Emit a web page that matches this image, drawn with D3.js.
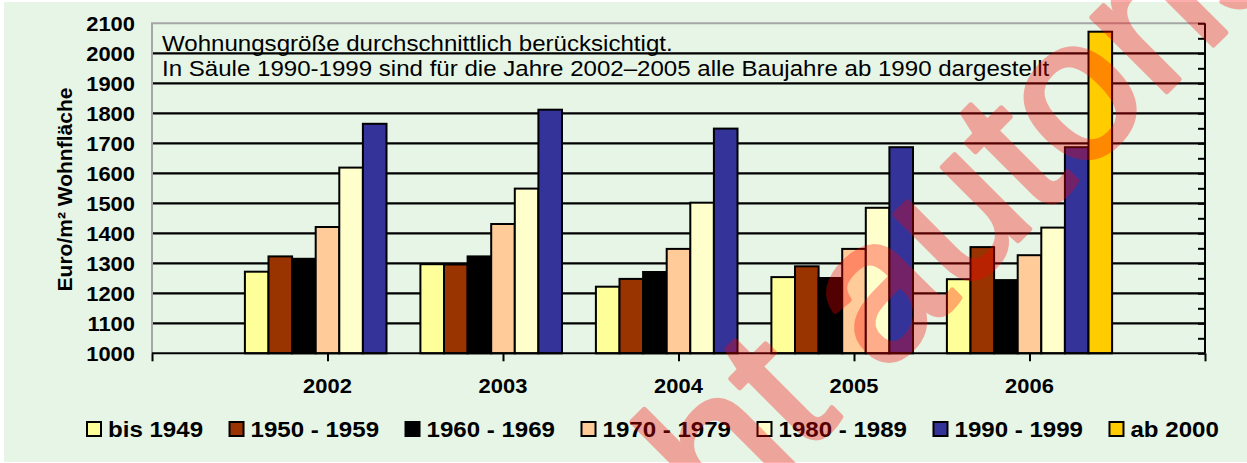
<!DOCTYPE html>
<html>
<head>
<meta charset="utf-8">
<script src="https://cdn.jsdelivr.net/npm/d3@7"></script>
<style>
  html, body { margin: 0; padding: 0; background: #ffffff; }
  svg { display: block; }
  text { font-family: "Liberation Sans", Arial, sans-serif; }
</style>
</head>
<body>
<svg id="chart" width="1247" height="463"></svg>
<script>
// Years on the category axis (the axis runs one step beyond each end)
const years = [2002, 2003, 2004, 2005, 2006];
const axisYears = [2001, 2002, 2003, 2004, 2005, 2006, 2007];

// Construction-period series
const series = ["bis 1949", "1950 - 1959", "1960 - 1969", "1970 - 1979", "1980 - 1989", "1990 - 1999", "ab 2000"];
const seriesColors = ["#FFFF99", "#993300", "#000000", "#FFCC99", "#FFFFCC", "#333399", "#FFCC00"];

// Euro per m² living area, one value per year (null = no value)
const bis1949   = [1272, 1297, 1222, 1254, 1247];
const v1950s    = [1323, 1296, 1248, 1290, 1354];
const v1960s    = [1315, 1323, 1271, 1251, 1244];
const v1970s    = [1421, 1431, 1348, 1348, 1327];
const v1980s    = [1619, 1549, 1502, 1485, 1419];
const v1990s    = [1765, 1812, 1749, 1687, 1687];
const ab2000    = [null, null, null, null, 2072];
const seriesValues = [bis1949, v1950s, v1960s, v1970s, v1980s, v1990s, ab2000];

const yTicks = d3.range(1000, 2101, 100);
const yMinorTicks = d3.range(1000, 2101, 50);

const noteLines = [
  "Wohnungsgröße durchschnittlich berücksichtigt.",
  "In Säule 1990-1999 sind für die Jahre 2002–2005 alle Baujahre ab 1990 dargestellt"
];
const yTitle = "Euro/m² Wohnfläche";
const watermark = "nicht autorisiert";

// ---------------------------------------------------------------
const W = 1247, H = 463;
const plot = { left: 152, right: 1205, top: 23.3, bottom: 353.3 };
const SX = 1.07; // horizontal text widening

const svg = d3.select("#chart");

// chart background
svg.append("rect")
  .attr("x", 4).attr("y", 2).attr("width", W - 4).attr("height", H - 3)
  .attr("fill", "#E6F5E6");

const x = d3.scaleLinear().domain([2001, 2007]).range([plot.left, plot.right]);
const y = d3.scaleLinear().domain([1000, 2100]).range([plot.bottom, plot.top]);

const barW = 23.6;
const inner = d3.scaleBand().domain(series).range([-3.5 * barW, 3.5 * barW]).padding(0);

// plot-area frame (top and left)
svg.append("path")
  .attr("d", `M${plot.left},${plot.bottom}V${plot.top}H${plot.right}`)
  .attr("fill", "none").attr("stroke", "#A6A6A6").attr("stroke-width", 2);

// gridlines
svg.append("g")
  .selectAll("line")
  .data(yTicks.filter(v => v > 1000 && v < 2100))
  .join("line")
  .attr("x1", plot.left + 1).attr("x2", plot.right)
  .attr("y1", d => y(d)).attr("y2", d => y(d))
  .attr("stroke", "#000").attr("stroke-width", 2.2);

// bars
const barData = [];
series.forEach((s, si) => {
  years.forEach((yr, yi) => {
    const v = seriesValues[si][yi];
    if (v != null) barData.push({ s, si, yr, v });
  });
});
svg.append("g")
  .selectAll("rect")
  .data(barData)
  .join("rect")
  .attr("x", d => x(d.yr) + inner(d.s))
  .attr("y", d => y(d.v))
  .attr("width", inner.bandwidth())
  .attr("height", d => y(1000) - y(d.v))
  .attr("fill", d => seriesColors[d.si])
  .attr("stroke", "#000").attr("stroke-width", 2);

// right value axis: line with inward ticks, no labels
const yRight = d3.axisLeft(y).tickValues(yMinorTicks).tickSize(7).tickFormat("");
const gR = svg.append("g").attr("transform", `translate(${plot.right},0)`).call(yRight);
gR.select(".domain").attr("stroke", "#000").attr("stroke-width", 2)
  .attr("d", `M0,${plot.top}V${plot.bottom}`);
gR.selectAll(".tick line").attr("stroke", "#000").attr("stroke-width", 2);

// bottom category axis
const xAxis = d3.axisBottom(x).tickValues(axisYears).tickSize(8).tickFormat("");
const gX = svg.append("g").attr("transform", `translate(0,${plot.bottom})`).call(xAxis);
gX.select(".domain").attr("stroke", "#000").attr("stroke-width", 2)
  .attr("d", `M${plot.left},0H${plot.right}`);
gX.selectAll(".tick line").attr("stroke", "#000").attr("stroke-width", 2);

// year labels
svg.append("g")
  .selectAll("text")
  .data(years)
  .join("text")
  .attr("transform", d => `translate(${x(d)},392.7) scale(${SX},1)`)
  .attr("text-anchor", "middle")
  .attr("font-size", 20.5).attr("font-weight", "bold").attr("fill", "#000")
  .text(d => d);

// value labels on the left
svg.append("g")
  .selectAll("text")
  .data(yTicks)
  .join("text")
  .attr("transform", d => `translate(135,${y(d) + 7.3}) scale(${SX},1)`)
  .attr("text-anchor", "end")
  .attr("font-size", 20.5).attr("font-weight", "bold").attr("fill", "#000")
  .text(d => d);

// axis title
svg.append("text")
  .attr("transform", `translate(72,${(87 + 292) / 2}) rotate(-90)`)
  .attr("text-anchor", "middle")
  .attr("font-size", 21).attr("font-weight", "bold").attr("fill", "#000")
  .text(yTitle);

// note text inside the plot
svg.append("g")
  .selectAll("text")
  .data(noteLines)
  .join("text")
  .attr("transform", (d, i) => `translate(162,${50.5 + i * 25.7}) scale(${SX},1)`)
  .attr("font-size", 22.5).attr("fill", "#000")
  .text(d => d);

// legend
const legend = svg.append("g");
let lx = 87;
series.forEach((s, i) => {
  legend.append("rect")
    .attr("x", lx).attr("y", 422).attr("width", 14).attr("height", 14)
    .attr("fill", seriesColors[i]).attr("stroke", "#000").attr("stroke-width", 2);
  const t = legend.append("text")
    .attr("transform", `translate(${lx + 21},437) scale(${SX},1)`)
    .attr("font-size", 22.5).attr("font-weight", "bold").attr("fill", "#000")
    .text(s);
  const tw = t.node().getComputedTextLength() * SX;
  lx += 21 + tw + 26.5;
});

// diagonal watermark
const wmSize = 200;
const wmLayer = svg.append("g").attr("opacity", 0.32);
const wm = wmLayer.append("text")
  .attr("font-size", wmSize).attr("fill", "rgb(253,0,0)")
  .attr("stroke", "rgb(253,0,0)").attr("stroke-width", 5).attr("stroke-linejoin", "round")
  .text(watermark);
const probe = svg.append("text").attr("font-size", wmSize).text("nicht ");
const prefixW = probe.node().getComputedTextLength();
probe.remove();
const ang = -45 * Math.PI / 180;
const lxA = prefixW + 0.278 * wmSize, lyA = -0.26 * wmSize;
const target = [845, 340];
const tx = target[0] - (lxA * Math.cos(ang) - lyA * Math.sin(ang));
const ty = target[1] - (lxA * Math.sin(ang) + lyA * Math.cos(ang));
wm.attr("transform", `translate(${tx},${ty}) rotate(-45)`);
</script>
</body>
</html>
